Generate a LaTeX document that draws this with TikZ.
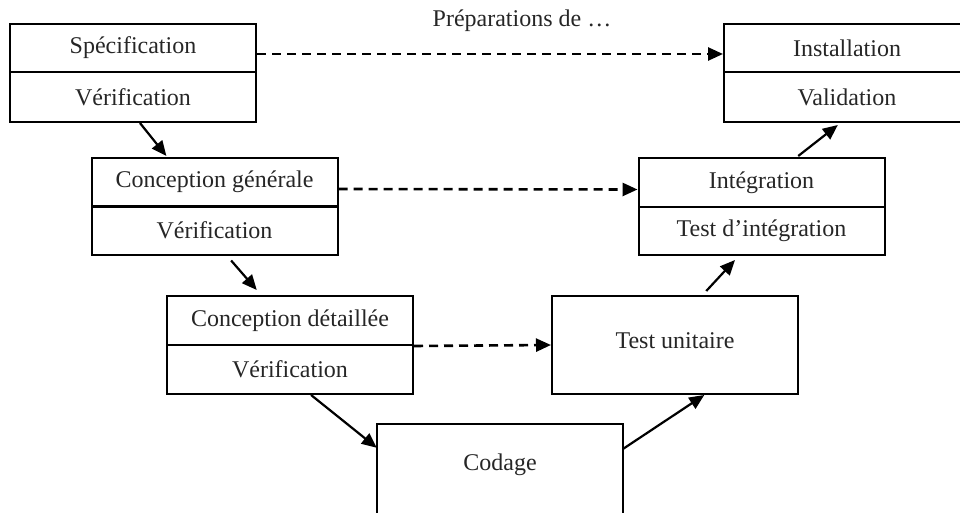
\documentclass[tikz,border=0pt]{standalone}
\usepackage{fontspec}
\setmainfont{Liberation Serif}
\usetikzlibrary{arrows.meta,calc}
\begin{document}
\begin{tikzpicture}[x=1pt,y=-1pt,
  font=\fontsize{24}{28}\selectfont,
  half/.style={draw, line width=2pt, minimum width=246pt, minimum height=48pt,
    inner sep=0pt, text=black!85},
  flow/.style={line width=2.2pt, -{Triangle[length=15pt,width=13pt]}},
  prep/.style={line width=2.6pt, dash pattern=on 9pt off 6pt,
    -{Triangle[length=15pt,width=13pt]}}
]
\clip (0,0) rectangle (960,513);

% left branch
\node[half] (spec)  at (133,48)  {\raisebox{-2pt}{Spécification}};
\node[half, minimum height=50pt] (specv) at (133,97) {Vérification};
\node[half] (cg)    at (214.5,182) {Conception générale};
\node[half] (cgv)   at (214.5,230.5) {Vérification};
\node[half, minimum height=49pt] (cd) at (290,320.5) {Conception détaillée};
\node[half, minimum height=49pt] (cdv) at (290,369.5) {Vérification};

% bottom: coding, open at the bottom
\node[minimum width=246pt, minimum height=82pt, inner sep=0pt, text=black!85]
  (cod) at (500,465) {Codage};
\draw[line width=2pt] ([yshift=-40pt]cod.south west) -- (cod.north west)
  -- (cod.north east) -- ([yshift=-40pt]cod.south east);

% right branch
\node[half, minimum height=98pt] (tu) at (675,345) {\raisebox{8pt}{Test unitaire}};
\node[half, minimum height=49pt] (integ)  at (761.5,182.5) {Intégration};
\node[half, minimum height=48pt] (integt) at (761.5,231) {Test d’intégration};
\node[half] (inst) at (847,48) {Installation};
\node[half, minimum height=50pt] (val) at (847,97) {Validation};

% caption of the dashed links
\node[text=black!85] (prepl) at (522,21) {Préparations de …};

% phase sequence
\draw[flow] ($(specv.south west)!0.528!(specv.south east)$)
  -- ($(cg.north west)!0.306!(cg.north east)+(0,-1)$);
\draw[flow] ($(cgv.south west)!0.567!(cgv.south east)+(0,5)$)
  -- ($(cd.north west)!0.366!(cd.north east)+(0,-5)$);
\draw[flow] ($(cdv.south west)!0.585!(cdv.south east)$)
  -- ([yshift=-24pt]cod.north west);
\draw[flow] ([yshift=-25pt]cod.north east)
  -- ($(tu.south west)!0.618!(tu.south east)$);
\draw[flow] ($(tu.north west)!0.626!(tu.north east)+(0,-4)$)
  -- ($(integt.south west)!0.393!(integt.south east)+(0,4)$);
\draw[flow] ($(integ.north west)!0.648!(integ.north east)+(0,-1)$)
  -- ($(val.south west)!0.463!(val.south east)+(0,2)$);

% preparation links
\draw[prep] ([yshift=-6pt]spec.east) -- ([yshift=-6pt]inst.west);
\draw[prep] ([yshift=-7pt]cg.east) -- ([yshift=-7pt]integ.west);
\draw[prep] (cd.south east) -- (tu.west);
\end{tikzpicture}
\end{document}
